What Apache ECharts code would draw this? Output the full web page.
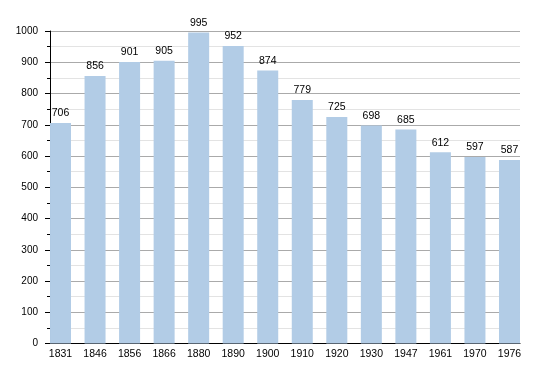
<!DOCTYPE html>
<html>
<head>
<meta charset="utf-8">
<script src="https://cdn.jsdelivr.net/npm/echarts@6/dist/echarts.min.js"></script>
<style>
html,body{margin:0;padding:0;background:#fff;}
#c{width:550px;height:373px;}
</style>
</head>
<body>
<div id="c"></div>
<script>
var years = ['1831','1846','1856','1866','1880','1890','1900','1910','1920','1930','1947','1961','1970','1976'];
var population = [706, 856, 901, 905, 995, 952, 874, 779, 725, 698, 685, 612, 597, 587];
var yTicks = [0, 100, 200, 300, 400, 500, 600, 700, 800, 900, 1000];

var chart = echarts.init(document.getElementById('c'), null, {renderer: 'canvas'});
var idx = years.map(function (y, i) { return i; });
var pad = 10.5 / 34.5;
chart.setOption({
  animation: false,
  backgroundColor: '#fff',
  textStyle: {fontFamily: 'Liberation Sans, Arial, sans-serif'},
  grid: {left: 50, right: 30, top: 31, bottom: 29.5, containLabel: false, outerBoundsMode: 'none'},
  xAxis: {
    type: 'value',
    min: -pad,
    max: years.length - 1 + pad,
    axisLine: {show: true, onZero: false, lineStyle: {color: '#000', width: 1}},
    axisTick: {show: false},
    splitLine: {show: false},
    axisLabel: {
      customValues: idx,
      formatter: function (v) { return years[Math.round(v)]; },
      color: '#000', fontSize: 10.5, margin: 5,
      fontFamily: 'Liberation Sans, Arial, sans-serif'
    }
  },
  yAxis: {
    type: 'value',
    min: yTicks[0],
    max: yTicks[yTicks.length - 1],
    interval: yTicks[1] - yTicks[0],
    axisLine: {show: true, onZero: false, lineStyle: {color: '#000', width: 1}},
    axisTick: {show: true, inside: false, length: 5, lineStyle: {color: '#000'}},
    minorTick: {show: true, splitNumber: 2, length: 3, lineStyle: {color: '#000'}},
    splitLine: {show: true, lineStyle: {color: '#aaaaaa', width: 1}},
    minorSplitLine: {show: true, lineStyle: {color: '#e3e3e3', width: 1}},
    axisLabel: {
      color: '#000', fontSize: 10, margin: 12,
      fontFamily: 'Liberation Sans, Arial, sans-serif',
      formatter: function (v) { return String(v); }
    }
  },
  series: [{
    type: 'bar',
    barWidth: 21,
    data: population.map(function (v, i) { return [i, v]; }),
    itemStyle: {color: '#b2cce6'},
    label: {
      show: true, position: 'top', distance: 4,
      color: '#000', fontSize: 10.5,
      fontFamily: 'Liberation Sans, Arial, sans-serif',
      formatter: function (p) { return p.value[1]; }
    }
  }]
});
</script>
</body>
</html>
